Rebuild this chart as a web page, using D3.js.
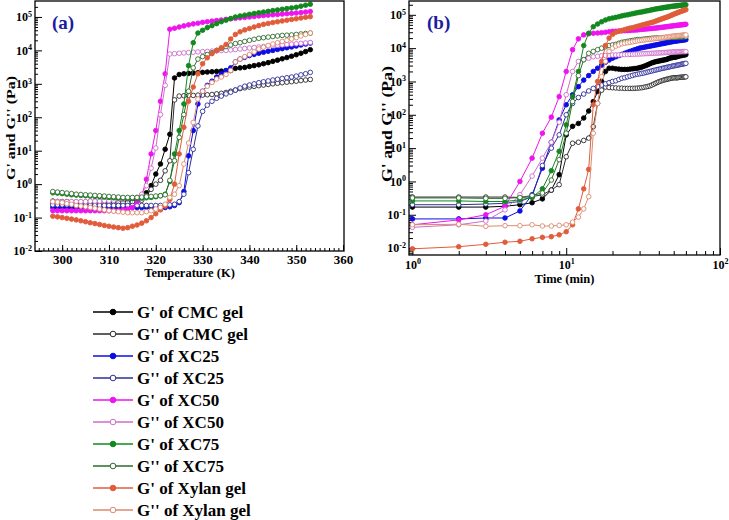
<!DOCTYPE html>
<html>
<head>
	<meta charset="utf-8">
	<title>G' and G'' of CMC, XC and xylan gels</title>
	<style type="text/css">
		body { margin: 0; background: #ffffff; }
		#chart text { font-family: "Liberation Serif", "Times New Roman", serif; font-weight: bold; fill: #000; }
		.frame { fill: none; stroke: #000; stroke-width: 1.3px; }
		.axis path { display: none; }
		.axis line { stroke: #000; stroke-width: 1px; }
	</style>
</head>
<body>
<svg id="chart"></svg>
<script src="https://cdn.jsdelivr.net/npm/d3@7/dist/d3.min.js"></script>
<script>

	// ---- (a) temperature sweep, K ----
	var tempK = [298,299,300,301,302,303,304,305,306,307, 308,309,310,311,312,313,314,315,316,317,
		318,319,320,321,322,323,324,325,326,327, 328,329,330,331,332,333,334,335,336,337,
		338,339,340,341,342,343,344,345,346,347, 348,349,350,351,352,353];

	var cmcG1_a = [0.31,0.30,0.30,0.30,0.29,0.29,0.29,0.29,0.30,0.30, 0.30,0.30,0.30,0.31,0.31,0.31,0.32,0.32,0.34,0.4,
		0.55,0.9,2,4,11,31,1500,1900,2000,2050, 2100,2150,2200,2250,2300,2350,2400,2450,2500,2900,
		3000,3100,3300,3500,3700,4000,4300,4700,5100,5600, 6100,6700,7400,8200,9200,10500];
	var cmcG2_a = [0.28,0.28,0.27,0.27,0.27,0.27,0.27,0.27,0.27,0.27, 0.27,0.27,0.27,0.27,0.28,0.28,0.28,0.29,0.30,0.33,
		0.45,0.7,1.0,1.3,2.5,5,330,430,440,450, 450,460,460,470,480,500,520,550,600,650,
		720,760,800,840,880,920,960,1000,1040,1080, 1120,1160,1200,1250,1300,1350];
	var xc25G1_a = [0.20,0.20,0.20,0.20,0.20,0.20,0.20,0.20,0.20,0.20, 0.20,0.20,0.20,0.20,0.20,0.20,0.20,0.20,0.20,0.20,
		0.20,0.20,0.20,0.20,0.20,0.21,0.23,0.28,0.6,7, 40,250,600,900,1200,1600,2000,2500,3000,4500,
		5500,6200,7000,7600,8200,8800,9400,10000,10700,11300, 12000,12700,13500,14500,15500,16500];
	var xc25G2_a = [0.24,0.24,0.24,0.24,0.24,0.23,0.23,0.23,0.23,0.23, 0.23,0.23,0.23,0.23,0.23,0.23,0.23,0.23,0.23,0.23,
		0.23,0.23,0.23,0.23,0.23,0.24,0.25,0.3,0.5,2.2, 11,55,150,230,300,370,430,500,560,650,
		750,850,920,1000,1080,1150,1220,1300,1370,1450, 1520,1600,1700,1850,2000,2200];
	var xc50G1_a = [0.16,0.16,0.16,0.16,0.16,0.16,0.16,0.16,0.16,0.16, 0.16,0.16,0.16,0.16,0.16,0.17,0.18,0.2,0.3,0.45,
		1.4,8,40,300,2000,43000,46000,50000,54000,58000, 62000,65000,69000,72000,75000,78000,81000,85000,88000,91000,
		94000,97000,100000,103000,107000,110000,113000,116000,119000,122000, 125000,128000,131000,135000,140000,145000];
	var xc50G2_a = [0.30,0.30,0.30,0.30,0.30,0.30,0.30,0.30,0.31,0.31, 0.31,0.32,0.32,0.33,0.34,0.35,0.36,0.38,0.40,0.5,
		0.9,3,12,120,900,7800,8000,8200,8400,8600, 8800,9000,9200,9300,9500,9700,9900,10000,10300,10600,
		11000,11400,11800,12200,12600,13000,13400,13800,14200,14600, 15000,15400,15800,16200,16700,17200];
	var xc75G1_a = [0.55,0.54,0.52,0.50,0.48,0.47,0.46,0.45,0.44,0.43, 0.42,0.41,0.40,0.39,0.38,0.38,0.37,0.37,0.37,0.38,
		0.39,0.40,0.42,0.45,0.5,1.2,8,40,250,3500, 17000,33000,40000,48000,55000,63000,72000,80000,90000,100000,
		107000,113000,120000,127000,133000,140000,147000,155000,162000,170000, 178000,186000,195000,210000,225000,240000];
	var xc75G2_a = [0.60,0.58,0.56,0.54,0.52,0.50,0.49,0.48,0.47,0.46, 0.45,0.44,0.43,0.42,0.41,0.40,0.40,0.40,0.40,0.41,
		0.42,0.43,0.44,0.45,0.48,1.3,5,25,120,600, 3000,5500,6500,7500,8500,10000,11500,13000,14500,16000,
		17000,18500,20000,21500,23000,24000,25000,26000,27000,28000, 28500,29000,30000,31000,32000,33000];
	var xylG1_a = [0.11,0.105,0.10,0.095,0.09,0.085,0.08,0.075,0.07,0.066, 0.062,0.058,0.055,0.052,0.05,0.048,0.05,0.055,0.06,0.068,
		0.08,0.1,0.13,0.17,0.22,0.35,1.0,8,50,300, 800,2000,4000,6000,8000,10000,12000,15000,22000,30000,
		36000,41000,45000,50000,55000,60000,64000,68000,72000,76000, 80000,84000,88000,93000,98000,102000];
	var xylG2_a = [0.30,0.29,0.28,0.26,0.25,0.23,0.22,0.21,0.20,0.19, 0.18,0.17,0.16,0.155,0.15,0.145,0.14,0.14,0.14,0.14,
		0.15,0.16,0.18,0.2,0.25,0.4,0.5,0.9,4,17, 70,350,600,850,1100,1400,1600,1900,2500,4500,
		5500,6500,7500,9000,11000,12500,14000,15500,17000,18500, 20000,22000,24000,27000,30000,33000];

	// ---- (b) time sweep, min ----
	var timeMin = [1,2,3,4,5,6,7,8,9,10, 11,12,13,14,15,16,17,18,19,20, 21,22,23,24,25,26,27,28,29,30,
		31,32,33,34,35,36,37,38,39,40, 41,42,43,44,45,46,47,48,49,50, 51,52,53,54,55,56,57,58,59,60];

	var cmcG1_b = [0.17,0.17,0.17,0.18,0.20,0.23,0.30,0.55,1.6,25, 45,55,80,130,250,500,1000,2000,2500,2500,
		2400,2350,2300,2300,2300,2350,2400,2450,2500,2600, 2700,2850,3000,3200,3400,3600,3750,3900,4000,4100,
		4200,4300,4400,4500,4600,4800,5000,5100,5200,5400, 5300,5500,5600,5800,5900,6000,6100,6200,6300,6400];
	var cmcG2_b = [0.34,0.34,0.34,0.34,0.33,0.35,0.40,0.55,0.8,5.5, 14,15,17,20,44,220,550,680,660,650,
		640,630,630,620,620,620,620,625,630,640, 650,670,690,710,740,780,830,880,930,980,
		1020,1060,1100,1130,1160,1190,1220,1250,1270,1290, 1300,1280,1300,1320,1330,1340,1350,1360,1370,1380];
	var xc25G1_b = [0.075,0.075,0.08,0.08,0.13,0.4,2.5,15,70,200, 400,700,1100,1500,2000,2500,3100,3800,4400,5000,
		5500,6000,6500,7000,7500,8000,8500,9000,9500,10000, 10300,10600,10900,11200,11500,11800,12100,12400,12700,13000,
		13300,13600,13900,14200,14500,14800,15100,15400,15700,16000, 16200,16400,16600,16800,17000,17200,17400,17600,17800,18000];
	var xc25G2_b = [0.2,0.2,0.21,0.22,0.25,0.35,3,10,25,100, 220,330,420,520,620,700,780,850,920,1000,
		1050,1150,1250,1300,1380,1450,1520,1600,1650,1700, 1750,1800,1870,1930,2000,2070,2140,2200,2270,2330,
		2400,2460,2520,2580,2640,2700,2760,2820,2880,2940, 3000,3050,3100,3160,3220,3280,3340,3400,3450,3500];
	var xc50G1_b = [0.05,0.07,0.1,0.18,1,5,28,85,350,2000, 9000,19000,25000,27000,28000,28500,29000,30000,31000,32000,
		32300,32600,33000,33300,33600,34000,34400,34800,35200,36000, 36500,37000,37500,38000,38500,39000,39500,40000,40500,41000,
		41600,42200,42800,43400,44000,44600,45200,45800,46400,47000, 47500,48000,48500,49000,49500,50000,50500,51000,51500,52000];
	var xc50G2_b = [0.042,0.05,0.065,0.14,0.4,1.45,5,15,60,400, 2000,4000,4500,5000,5500,5700,5900,6000,6100,6200,
		6250,6300,6350,6400,6450,6500,6550,6600,6650,6700, 6750,6800,6850,6900,6950,7000,7050,7100,7150,7200,
		7250,7300,7350,7400,7450,7500,7550,7600,7650,7700, 7700,7750,7750,7800,7800,7850,7850,7900,7900,7900];
	var xc75G1_b = [0.26,0.26,0.25,0.25,0.28,0.33,0.6,2.1,8,50, 350,2000,12000,28000,44000,53000,62000,70000,76000,80000,
		84000,88000,93000,97000,100000,104000,108000,112000,116000,119000, 122000,126000,130000,133000,137000,141000,145000,149000,152000,155000,
		158000,161000,164000,167000,170000,172000,175000,178000,180000,182000, 184000,186000,188000,190000,192000,194000,196000,197000,199000,200000];
	var xc75G2_b = [0.32,0.32,0.31,0.31,0.33,0.38,0.45,1.1,4.5,28, 250,1500,4500,7000,8000,9000,10000,11000,12000,12500,
		13000,14000,15000,15500,16000,16500,17000,17500,18000,18000, 18300,18600,18900,19200,19500,19700,19900,20000,20100,20200,
		20300,20400,20500,20600,20700,20800,20900,21000,21100,21200, 21300,21400,21500,21600,21700,21800,21850,21900,21950,22000];
	var xylG1_b = [0.0095,0.011,0.013,0.015,0.016,0.019,0.021,0.022,0.025,0.031, 0.05,0.15,0.6,2.3,200,1000,4000,12000,20000,26000,
		30000,32000,34000,36000,38000,40000,41000,43000,45000,47000, 49000,51000,53000,55000,57000,59000,61000,64000,67000,70000,
		73000,76000,79000,82000,85000,88000,92000,96000,100000,104000, 108000,112000,116000,120000,124000,128000,132000,136000,140000,143000];
	var xylG2_b = [0.05,0.052,0.045,0.047,0.047,0.05,0.046,0.046,0.048,0.05, 0.06,0.085,0.15,0.35,28,220,1400,4000,8000,10000,
		11500,12500,13500,14000,14500,15000,15500,16000,16500,17000, 17300,17600,17900,18200,18500,18800,19100,19400,19700,20000,
		20300,20600,20900,21200,21500,21800,22100,22400,22700,23000, 23200,23400,23600,23800,24000,24200,24400,24600,24800,25000];

	// tick labels
	var tempTicks = [300, 310, 320, 330, 340, 350, 360];
	var timeTicks = [1, 10, 100];
	var modTicks = [1e-2, 1e-1, 1e0, 1e1, 1e2, 1e3, 1e4, 1e5];

	var names = ["G' of CMC gel", "G'' of CMC gel", "G' of XC25", "G'' of XC25", "G' of XC50",
		"G'' of XC50", "G' of XC75", "G'' of XC75", "G' of Xylan gel", "G'' of Xylan gel"];
	var colors = ["#000000", "#2a2a2a", "#0c0ce6", "#2e2e99", "#ee14ee",
		"#cc6ecc", "#12881e", "#2d6b2d", "#e05c3a", "#dc8a6e"];
	var filled = [true, false, true, false, true, false, true, false, true, false];

	var seriesA = [cmcG1_a, cmcG2_a, xc25G1_a, xc25G2_a, xc50G1_a, xc50G2_a, xc75G1_a, xc75G2_a, xylG1_a, xylG2_a];
	var seriesB = [cmcG1_b, cmcG2_b, xc25G1_b, xc25G2_b, xc50G1_b, xc50G2_b, xc75G1_b, xc75G2_b, xylG1_b, xylG2_b];

	var width = 729, height = 520;
	var svg = d3.select("#chart").attr("width", width).attr("height", height);

	var boxA = {x0: 35, x1: 344, y0: 1, y1: 251};
	var boxB = {x0: 409, x1: 720, y0: 1, y1: 255};

	var xA = d3.scaleLinear().domain([294.2, 360.2]).range([boxA.x0, boxA.x1]);
	var yA = d3.scaleLog().domain([0.01, 3e5]).range([boxA.y1, boxA.y0]);
	var xB = d3.scaleLog().domain([0.95, 100]).range([boxB.x0, boxB.x1]);
	var yB = d3.scaleLog().domain([0.0062, 2.6e5]).range([boxB.y1, boxB.y0]);

	function minorLog(scale) {
		var dom = scale.domain(), out = [];
		for (var e = Math.floor(Math.log10(dom[0])); e <= Math.ceil(Math.log10(dom[1])); e++) {
			for (var m = 2; m <= 9; m++) {
				var v = m * Math.pow(10, e);
				if (v > dom[0] && v < dom[1]) out.push(v);
			}
		}
		return out;
	}

	// "10" with the exponent raised
	function powLabel(sel) {
		sel.each(function(d) {
			var t = d3.select(this).text(null).style("font-size", "12px");
			t.append("tspan").text("10");
			t.append("tspan").attr("dy", "-0.55em").style("font-size", "8px").text(Math.round(Math.log10(d)));
		});
	}

	function addAxis(axis, tx, ty) {
		return svg.append("g").attr("class", "axis")
			.attr("transform", "translate(" + tx + "," + ty + ")")
			.call(axis);
	}

	// ---- axes (ticks point inward) ----
	addAxis(d3.axisBottom(xA).tickValues(d3.range(295, 360)).tickSizeInner(-3).tickSizeOuter(0).tickFormat(""), 0, boxA.y1);
	addAxis(d3.axisBottom(xA).tickValues(tempTicks).tickSizeInner(-6).tickSizeOuter(0).tickPadding(4), 0, boxA.y1)
		.selectAll("text").style("font-size", "13px");
	addAxis(d3.axisLeft(yA).tickValues(minorLog(yA)).tickSizeInner(-3).tickSizeOuter(0).tickFormat(""), boxA.x0, 0);
	addAxis(d3.axisLeft(yA).tickValues(modTicks).tickSizeInner(-7).tickSizeOuter(0).tickPadding(3), boxA.x0, 0)
		.selectAll("text").call(powLabel);

	addAxis(d3.axisBottom(xB).tickValues(minorLog(xB)).tickSizeInner(-4).tickSizeOuter(0).tickFormat(""), 0, boxB.y1);
	addAxis(d3.axisBottom(xB).tickValues(timeTicks).tickSizeInner(-7).tickSizeOuter(0).tickPadding(5), 0, boxB.y1)
		.selectAll("text").call(powLabel);
	addAxis(d3.axisLeft(yB).tickValues(minorLog(yB)).tickSizeInner(-4).tickSizeOuter(0).tickFormat(""), boxB.x0, 0);
	addAxis(d3.axisLeft(yB).tickValues(modTicks).tickSizeInner(-7).tickSizeOuter(0).tickPadding(3), boxB.x0, 0)
		.selectAll("text").call(powLabel);

	// ---- curves ----
	function drawSeries(xs, ys, xVals, data) {
		var line = d3.line()
			.x(function(d, i) { return xs(xVals[i]); })
			.y(function(d) { return ys(d); });
		data.forEach(function(vals, k) {
			var g = svg.append("g");
			g.append("path").datum(vals)
				.attr("d", line)
				.attr("fill", "none")
				.attr("stroke", colors[k])
				.attr("stroke-width", 1);
			g.selectAll("circle").data(vals).enter().append("circle")
				.attr("cx", function(d, i) { return xs(xVals[i]); })
				.attr("cy", function(d) { return ys(d); })
				.attr("r", 2.3)
				.attr("fill", filled[k] ? colors[k] : "#ffffff")
				.attr("stroke", colors[k])
				.attr("stroke-width", 0.9);
		});
	}
	drawSeries(xA, yA, tempK, seriesA);
	drawSeries(xB, yB, timeMin, seriesB);

	// frames
	[boxA, boxB].forEach(function(b) {
		svg.append("rect").attr("class", "frame")
			.attr("x", b.x0).attr("y", b.y0)
			.attr("width", b.x1 - b.x0).attr("height", b.y1 - b.y0);
	});

	// ---- titles ----
	svg.append("text").attr("x", (boxA.x0 + boxA.x1) / 2).attr("y", 277)
		.attr("text-anchor", "middle").style("font-size", "12.5px").text("Temperature (K)");
	svg.append("text").attr("x", (boxB.x0 + boxB.x1) / 2).attr("y", 283)
		.attr("text-anchor", "middle").style("font-size", "12.5px").text("Time (min)");
	svg.append("text").attr("transform", "translate(15,128) rotate(-90)")
		.attr("text-anchor", "middle").style("font-size", "13px")
		.attr("textLength", 104).attr("lengthAdjust", "spacingAndGlyphs")
		.text("G' and G'' (Pa)");
	svg.append("text").attr("transform", "translate(392,124) rotate(-90)")
		.attr("text-anchor", "middle").style("font-size", "14px")
		.attr("textLength", 116).attr("lengthAdjust", "spacingAndGlyphs")
		.text("G' and G'' (Pa)");

	svg.append("text").attr("x", 52).attr("y", 29).style("font-size", "19px").style("fill", "#1c1c9e").text("(a)");
	svg.append("text").attr("x", 427).attr("y", 29).style("font-size", "19px").style("fill", "#1c1c9e").text("(b)");

	// ---- legend ----
	var legY = d3.scalePoint().domain(names).range([312, 510]);
	var leg = svg.append("g");
	names.forEach(function(n, k) {
		var row = leg.append("g").attr("transform", "translate(0," + legY(n) + ")");
		row.append("line").attr("x1", 93).attr("x2", 133)
			.attr("stroke", colors[k]).attr("stroke-width", 1.4);
		row.append("circle").attr("cx", 113).attr("r", 2.8)
			.attr("fill", filled[k] ? colors[k] : "#ffffff")
			.attr("stroke", colors[k]).attr("stroke-width", 1);
		row.append("text").attr("x", 137).attr("dy", "0.36em")
			.style("font-size", "17px").text(n);
	});

</script>
</body>
</html>
